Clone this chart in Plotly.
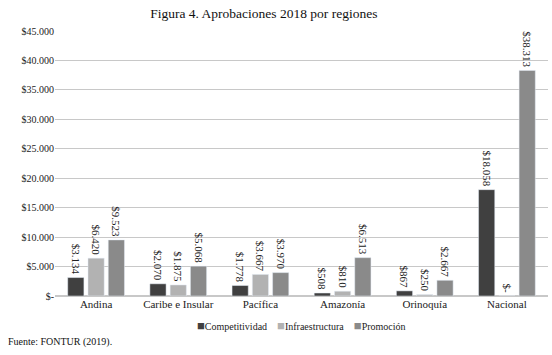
import plotly.graph_objects as go

regiones = ["Andina", "Caribe e Insular", "Pacífica", "Amazonía", "Orinoquía", "Nacional"]
competitividad = [3134, 2070, 1778, 508, 867, 18058]
infraestructura = [6420, 1875, 3667, 810, 250, 0]
promocion = [9523, 5068, 3970, 6513, 2667, 38313]
yticks = [0, 5000, 10000, 15000, 20000, 25000, 30000, 35000, 40000, 45000]

def fmt(v):
    if v == 0:
        return "$-"
    return "$" + f"{v:,}".replace(",", ".")

ticktext = ["$-"] + ["$" + f"{v:,}".replace(",", ".") for v in yticks[1:]]

series = [
    ("Competitividad", competitividad, "#404040"),
    ("Infraestructura", infraestructura, "#b2b2b2"),
    ("Promoción", promocion, "#8a8a8a"),
]

SERIF = "Liberation Serif"

fig = go.Figure()
for name, vals, col in series:
    fig.add_trace(go.Bar(
        name=name, x=regiones, y=vals, marker_color=col,
        text=[fmt(v) for v in vals], textposition="outside",
        textangle=90, cliponaxis=False, constraintext="none",
        textfont=dict(family=SERIF, size=11, color="#222222"),
        showlegend=False, hoverinfo="skip",
    ))

legend_html = "&nbsp;&nbsp;&nbsp;&nbsp;".join(
    f'<span style="color:{col};font-size:13px">■</span>{name}' for name, _, col in series
)

fig.update_layout(
    width=552, height=355,
    margin=dict(l=55, r=4, t=31, b=59),
    paper_bgcolor="white", plot_bgcolor="white",
    barmode="group", bargap=0.26, bargroupgap=0.2,
    font=dict(family=SERIF, size=10, color="#222222"),
    title=dict(text="Figura 4. Aprobaciones 2018 por regiones", x=0.478, xanchor="center",
               y=0.963, yanchor="middle", font=dict(family=SERIF, size=13.5, color="#111111")),
    showlegend=False,
)
fig.update_yaxes(range=[0, 45000], tickvals=yticks, ticktext=ticktext,
                 showgrid=True, gridcolor="#c8c8c8", gridwidth=1, zeroline=True,
                 zerolinecolor="#c8c8c8", showline=False, ticks="", ticklen=0,
                 tickfont=dict(family=SERIF, size=10))
fig.update_xaxes(showline=False, ticks="", tickfont=dict(family=SERIF, size=11))

fig.add_annotation(text=legend_html, xref="paper", yref="paper",
                   x=0.5, xanchor="center", y=-0.11, yanchor="middle", showarrow=False,
                   font=dict(family=SERIF, size=10, color="#222222"))

fig.add_annotation(text="Fuente: FONTUR (2019).", xref="paper", yref="paper",
                   x=-0.1, xanchor="left", y=-0.175, yanchor="middle", showarrow=False,
                   font=dict(family=SERIF, size=10, color="#111111"))

fig.write_html("out.html", config={"displayModeBar": False},
               post_script="document.body.style.margin='0';document.body.style.padding='0';")
